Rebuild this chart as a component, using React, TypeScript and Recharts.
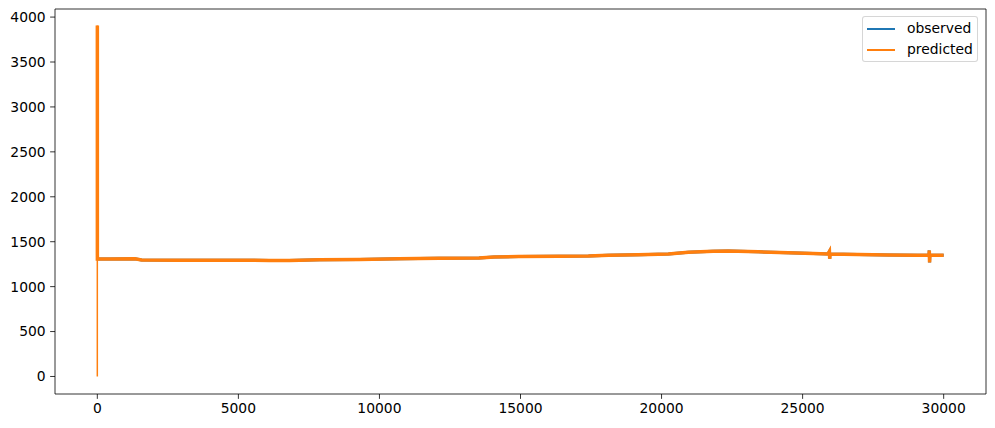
import { LineChart, Line, XAxis, YAxis, Legend, ReferenceLine } from "recharts";

// time step (x)
const steps = [
  0, 1, 2, 440, 1330, 1570, 2920, 4690, 6100, 6810, 7870, 9280, 10700, 12110, 13530,
  14060, 14940, 16350, 17410, 18120, 19180, 20240, 20950, 21830, 22360, 23430, 24490,
  25370, 25900, 25950, 25960, 25970, 26960, 28020, 29080, 29480, 29490, 29500, 29510, 30000,
];

// observed values: hidden under the predicted line in the reference
const observed = [
  1307, 1307, 1307, 1307, 1309, 1296, 1294, 1294, 1292, 1290, 1298, 1303, 1309, 1317, 1320,
  1330, 1336, 1339, 1340, 1348, 1354, 1364, 1382, 1395, 1396, 1388, 1377,
  1370, 1364, 1392, 1310, 1364, 1359, 1352, 1349, 1349, 1403, 1270, 1349, 1348,
];

const predicted = [
  0, 3907, 1307, 1307, 1309, 1296, 1294, 1294, 1292, 1290, 1298, 1303, 1309, 1317, 1320,
  1330, 1336, 1339, 1340, 1348, 1354, 1364, 1382, 1395, 1396, 1388, 1377,
  1370, 1364, 1392, 1310, 1364, 1359, 1352, 1349, 1349, 1403, 1270, 1349, 1348,
];

const xTicks = [0, 5000, 10000, 15000, 20000, 25000, 30000];
const yTicks = [0, 500, 1000, 1500, 2000, 2500, 3000, 3500, 4000];

const FONT = "DejaVu Sans";
const FS = 13.89;

// the first predicted step (0 -> spike) is drawn thin, the rest with the noisy-band width
const data = steps.map((s, i) => ({
  step: s,
  observed: observed[i],
  predicted: i === 0 ? null : predicted[i],
  predictedStart: i < 2 ? predicted[i] : null,
}));

const renderLegend = (props: any) => {
  const { payload } = props;
  const items = payload.filter((p: any) => p.type !== "none");
  return (
    <div
      style={{
        position: "relative",
        width: 116,
        height: 46,
        boxSizing: "border-box",
        border: "1px solid rgba(204,204,204,0.8)",
        borderRadius: 3,
        background: "rgba(255,255,255,0.8)",
        fontFamily: FONT,
        fontSize: FS,
        color: "#000",
      }}
    >
      {items.map((entry: any, i: number) => (
        <div
          key={entry.value}
          style={{
            position: "absolute",
            left: 0,
            top: 1 + i * 21,
            height: 21,
            display: "flex",
            alignItems: "center",
            whiteSpace: "nowrap",
          }}
        >
          <span style={{ display: "inline-block", width: 28, height: 2, background: entry.color, marginLeft: 3.5 }} />
          <span style={{ marginLeft: 12.5, lineHeight: "21px" }}>{entry.value}</span>
        </div>
      ))}
    </div>
  );
};

export default function App() {
  const tick = { fill: "#000", fontSize: FS, fontFamily: FONT };
  return (
    <div style={{ position: "absolute", left: 0, top: 0, width: 995, height: 428, background: "#fff" }}>
      <LineChart width={995} height={428} data={data} margin={{ top: 9, right: 9, bottom: 0, left: 0 }}>
        <XAxis
          dataKey="step"
          type="number"
          domain={[-1500, 31500]}
          ticks={xTicks}
          allowDataOverflow
          height={34}
          tick={tick}
          tickSize={4.86}
          tickMargin={4.5}
          stroke="#000"
          strokeWidth={0.8}
        />
        <YAxis
          type="number"
          domain={[-195, 4090]}
          ticks={yTicks}
          allowDataOverflow
          width={55}
          tick={tick}
          tickSize={4.86}
          tickMargin={4.5}
          stroke="#000"
          strokeWidth={0.8}
        />
        <ReferenceLine y={4090} stroke="#000" strokeWidth={0.8} />
        <ReferenceLine x={31500} stroke="#000" strokeWidth={0.8} />
        <Line
          type="linear"
          dataKey="observed"
          name="observed"
          stroke="#1f77b4"
          strokeWidth={3}
          dot={false}
          isAnimationActive={false}
        />
        <Line
          type="linear"
          dataKey="predictedStart"
          name="predictedStart"
          stroke="#ff7f0e"
          strokeWidth={1.5}
          dot={false}
          legendType="none"
          isAnimationActive={false}
        />
        <Line
          type="linear"
          dataKey="predicted"
          name="predicted"
          stroke="#ff7f0e"
          strokeWidth={3.5}
          dot={false}
          isAnimationActive={false}
        />
        <Legend
          content={renderLegend}
          layout="horizontal"
          align="center"
          verticalAlign="middle"
          wrapperStyle={{ position: "absolute", left: 862, top: 16, width: 116, height: 46 }}
        />
      </LineChart>
    </div>
  );
}
